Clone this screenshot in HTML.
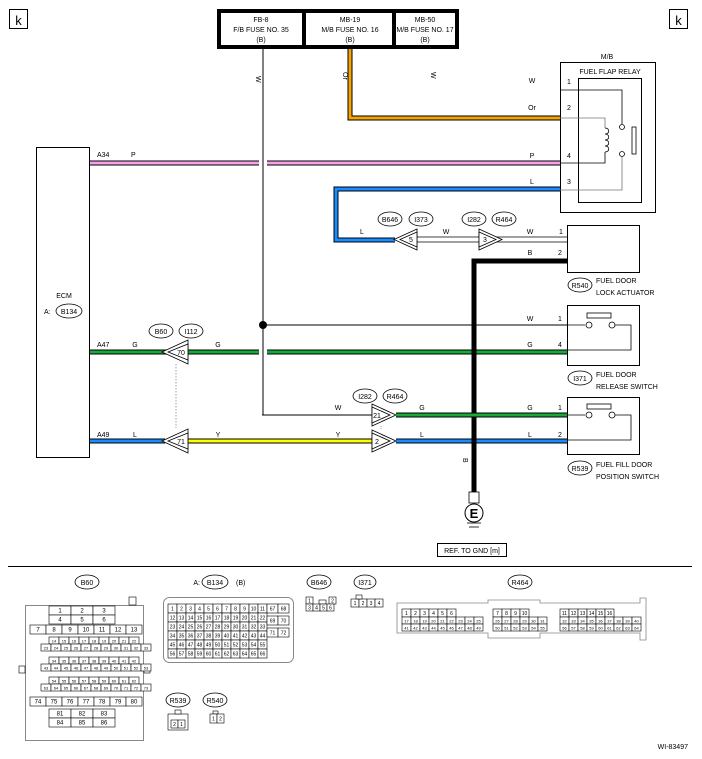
<!DOCTYPE html>
<html><head><meta charset="utf-8"><style>
html,body{margin:0;padding:0;background:#fff;}
svg{display:block;font-family:"Liberation Sans",sans-serif;}
text{font-size:7px;fill:#000;}
</style></head><body>
<svg id="s" width="702" height="759" viewBox="0 0 702 759" xmlns="http://www.w3.org/2000/svg">
<rect x="0" y="0" width="702" height="759" fill="#fff"/>
<rect x="9.5" y="9.5" width="18" height="19" fill="none" stroke="#000"/>
<text x="18.5" y="25" text-anchor="middle" style="font-size:13px">k</text>
<rect x="669.5" y="9.5" width="18" height="19" fill="none" stroke="#000"/>
<text x="678.5" y="25" text-anchor="middle" style="font-size:13px">k</text>
<rect x="219" y="11" width="238" height="36" fill="#fff" stroke="#000" stroke-width="4"/>
<line x1="304" y1="11" x2="304" y2="47" stroke="#000" stroke-width="4"/>
<line x1="394" y1="11" x2="394" y2="47" stroke="#000" stroke-width="4"/>
<text x="261" y="22" text-anchor="middle">FB-8</text><text x="261" y="32" text-anchor="middle">F/B FUSE NO. 35</text><text x="261" y="42" text-anchor="middle">(B)</text>
<text x="350" y="22" text-anchor="middle">MB-19</text><text x="350" y="32" text-anchor="middle">M/B FUSE NO. 16</text><text x="350" y="42" text-anchor="middle">(B)</text>
<text x="425" y="22" text-anchor="middle">MB-50</text><text x="425" y="32" text-anchor="middle">M/B FUSE NO. 17</text><text x="425" y="42" text-anchor="middle">(B)</text>
<text transform="translate(256,76) rotate(90)">W</text>
<text transform="translate(343,72) rotate(90)">Or</text>
<text transform="translate(431,72) rotate(90)">W</text>
<line x1="263" y1="49" x2="263" y2="415" stroke="#000" stroke-width="1"/>
<polyline points="350,49 350,118 560,118" fill="none" stroke="#000" stroke-width="5"/>
<polyline points="350,49 350,118 560,118" fill="none" stroke="#f7a500" stroke-width="3"/>
<!-- M/B relay -->
<text x="607" y="59" text-anchor="middle">M/B</text>
<rect x="560.5" y="62.5" width="95" height="150" fill="none" stroke="#000"/>
<text x="610" y="74" text-anchor="middle">FUEL FLAP RELAY</text>
<rect x="578.5" y="78.5" width="63" height="124" fill="none" stroke="#000"/>
<text x="532" y="83" text-anchor="middle">W</text><text x="567" y="84">1</text>
<text x="532" y="110" text-anchor="middle">Or</text><text x="567" y="110">2</text>
<text x="532" y="158" text-anchor="middle">P</text><text x="567" y="158">4</text>
<text x="532" y="184" text-anchor="middle">L</text><text x="567" y="184">3</text>
<polyline points="560,90 622,90 622,124" fill="none" stroke="#000" stroke-width="0.8"/>
<polyline points="560,118 605,118 605,128" fill="none" stroke="#777" stroke-width="0.8"/>
<path d="M605,128 c5,0 5,6 0,6 c5,0 5,6 0,6 c5,0 5,6 0,6 c5,0 5,6 0,6" fill="none" stroke="#000" stroke-width="0.8"/>
<polyline points="605,152 605,163 560,163" fill="none" stroke="#000" stroke-width="0.8"/>
<circle cx="622" cy="127" r="2.5" fill="#fff" stroke="#000" stroke-width="0.8"/>
<circle cx="622" cy="154" r="2.5" fill="#fff" stroke="#000" stroke-width="0.8"/>
<rect x="632" y="127" width="4" height="27" fill="#fff" stroke="#000" stroke-width="0.8"/>
<polyline points="622,157 622,190 560,190" fill="none" stroke="#777" stroke-width="0.8"/>
<!-- ECM -->
<rect x="36.5" y="147.5" width="53" height="310" fill="#fff" stroke="#000"/>
<text x="64" y="298" text-anchor="middle">ECM</text>
<text x="44" y="314">A:</text>
<ellipse cx="69" cy="311" rx="13" ry="7" fill="none" stroke="#000" stroke-width="0.8"/><text x="69" y="314" text-anchor="middle">B134</text>
<text x="97" y="157">A34</text><text x="131" y="157">P</text>
<line x1="90" y1="163" x2="259" y2="163" stroke="#000" stroke-width="5"/>
<line x1="90" y1="163" x2="259" y2="163" stroke="#f9a0e8" stroke-width="3"/>
<line x1="267" y1="163" x2="560" y2="163" stroke="#000" stroke-width="5"/>
<line x1="267" y1="163" x2="560" y2="163" stroke="#f9a0e8" stroke-width="3"/>
<polyline points="560,189 336,189 336,240 395,240" fill="none" stroke="#000" stroke-width="5"/>
<polyline points="560,189 336,189 336,240 395,240" fill="none" stroke="#1a8cff" stroke-width="3"/>
<text x="362" y="234" text-anchor="middle">L</text>
<text x="446" y="234" text-anchor="middle">W</text>
<text x="530" y="234" text-anchor="middle">W</text><text x="559" y="234">1</text>
<text x="530" y="255" text-anchor="middle">B</text><text x="558" y="255">2</text>
<line x1="410" y1="237" x2="570" y2="237" stroke="#000" stroke-width="0.8"/>
<line x1="410" y1="242" x2="570" y2="242" stroke="#000" stroke-width="0.8"/>
<polygon points="394,239.5 417,229 417,250" fill="#fff" stroke="#000" stroke-width="0.8"/>
<polygon points="400,239.5 417,232 417,247" fill="#fff" stroke="#000" stroke-width="0.8"/>
<text x="411" y="242" text-anchor="middle">5</text>
<polygon points="502,239.5 479,229 479,250" fill="#fff" stroke="#000" stroke-width="0.8"/>
<polygon points="496,239.5 479,232 479,247" fill="#fff" stroke="#000" stroke-width="0.8"/>
<text x="485" y="242" text-anchor="middle">3</text>
<ellipse cx="390" cy="219" rx="12" ry="7" fill="none" stroke="#000" stroke-width="0.8"/><text x="390" y="222" text-anchor="middle">B646</text>
<ellipse cx="421" cy="219" rx="12" ry="7" fill="none" stroke="#000" stroke-width="0.8"/><text x="421" y="222" text-anchor="middle">I373</text>
<ellipse cx="474" cy="219" rx="12" ry="7" fill="none" stroke="#000" stroke-width="0.8"/><text x="474" y="222" text-anchor="middle">I282</text>
<ellipse cx="504" cy="219" rx="12" ry="7" fill="none" stroke="#000" stroke-width="0.8"/><text x="504" y="222" text-anchor="middle">R464</text>
<rect x="567.5" y="225.5" width="72" height="47" fill="#fff" stroke="#000"/>
<ellipse cx="580" cy="285" rx="12" ry="7" fill="none" stroke="#000" stroke-width="0.8"/><text x="580" y="288" text-anchor="middle">R540</text>
<text x="596" y="283">FUEL DOOR</text><text x="596" y="295">LOCK ACTUATOR</text>
<polyline points="567,261 474,261 474,492" fill="none" stroke="#000" stroke-width="5"/>
<text transform="translate(463,458) rotate(90)">B</text>
<rect x="469" y="492" width="10" height="11" fill="#fff" stroke="#000" stroke-width="0.8"/>
<circle cx="474" cy="513" r="9" fill="#fff" stroke="#000"/>
<text x="474" y="518" text-anchor="middle" style="font-size:13px;font-weight:bold">E</text>
<line x1="467" y1="523" x2="481" y2="523" stroke="#000" stroke-width="0.8"/>
<line x1="469" y1="527" x2="479" y2="527" stroke="#000" stroke-width="0.8"/>
<rect x="437.5" y="543.5" width="69" height="13" fill="#fff" stroke="#000"/>
<text x="472" y="553" text-anchor="middle">REF. TO GND  [m]</text>
<circle cx="263" cy="325" r="4" fill="#000"/>
<line x1="263" y1="325" x2="567" y2="325" stroke="#000" stroke-width="0.9"/>
<text x="530" y="321" text-anchor="middle">W</text><text x="558" y="321">1</text>
<text x="97" y="347">A47</text><text x="135" y="347" text-anchor="middle">G</text><text x="218" y="347" text-anchor="middle">G</text>
<text x="530" y="347" text-anchor="middle">G</text><text x="558" y="347">4</text>
<line x1="90" y1="352" x2="259" y2="352" stroke="#000" stroke-width="5"/>
<line x1="90" y1="352" x2="259" y2="352" stroke="#19a83a" stroke-width="3"/>
<line x1="267" y1="352" x2="567" y2="352" stroke="#000" stroke-width="5"/>
<line x1="267" y1="352" x2="567" y2="352" stroke="#19a83a" stroke-width="3"/>
<line x1="474" y1="348" x2="474" y2="356" stroke="#000" stroke-width="5"/>
<polygon points="162,352 188,340 188,364" fill="#fff" stroke="#000" stroke-width="0.8"/>
<polygon points="168,352 188,344 188,360" fill="#fff" stroke="#000" stroke-width="0.8"/>
<text x="181" y="355" text-anchor="middle">70</text>
<ellipse cx="161" cy="331" rx="12" ry="7" fill="none" stroke="#000" stroke-width="0.8"/><text x="161" y="334" text-anchor="middle">B60</text>
<ellipse cx="191" cy="331" rx="12" ry="7" fill="none" stroke="#000" stroke-width="0.8"/><text x="191" y="334" text-anchor="middle">I112</text>
<line x1="176" y1="364" x2="176" y2="428" stroke="#888" stroke-width="0.8" stroke-dasharray="1.5,1.5"/>
<rect x="567.5" y="305.5" width="72" height="60" fill="#fff" stroke="#000"/>
<rect x="587" y="313" width="24" height="5" fill="#fff" stroke="#000" stroke-width="0.8"/>
<line x1="567" y1="325" x2="585" y2="325" stroke="#000" stroke-width="0.8"/>
<circle cx="589" cy="325" r="3" fill="#fff" stroke="#000" stroke-width="0.8"/>
<circle cx="612" cy="325" r="3" fill="#fff" stroke="#000" stroke-width="0.8"/>
<polyline points="615,325 631,325 631,350 567,350" fill="none" stroke="#000" stroke-width="0.8"/>
<ellipse cx="580" cy="378" rx="12" ry="7" fill="none" stroke="#000" stroke-width="0.8"/><text x="580" y="381" text-anchor="middle">I371</text>
<text x="596" y="377">FUEL DOOR</text><text x="596" y="389">RELEASE SWITCH</text>
<line x1="262" y1="415" x2="372" y2="415" stroke="#000" stroke-width="0.9"/>
<text x="338" y="410" text-anchor="middle">W</text>
<polygon points="396,415 372,404 372,426" fill="#fff" stroke="#000" stroke-width="0.8"/>
<polygon points="390,415 372,407 372,423" fill="#fff" stroke="#000" stroke-width="0.8"/>
<text x="377" y="418" text-anchor="middle">21</text>
<line x1="396" y1="415" x2="567" y2="415" stroke="#000" stroke-width="5"/>
<line x1="396" y1="415" x2="567" y2="415" stroke="#19a83a" stroke-width="3"/>
<text x="422" y="410" text-anchor="middle">G</text>
<text x="530" y="410" text-anchor="middle">G</text><text x="558" y="410">1</text>
<ellipse cx="365" cy="396" rx="12" ry="7" fill="none" stroke="#000" stroke-width="0.8"/><text x="365" y="399" text-anchor="middle">I282</text>
<ellipse cx="395" cy="396" rx="12" ry="7" fill="none" stroke="#000" stroke-width="0.8"/><text x="395" y="399" text-anchor="middle">R464</text>
<line x1="381" y1="426" x2="381" y2="429" stroke="#888" stroke-width="0.8" stroke-dasharray="1,1"/>
<text x="97" y="437">A49</text><text x="135" y="437" text-anchor="middle">L</text><text x="218" y="437" text-anchor="middle">Y</text>
<text x="338" y="437" text-anchor="middle">Y</text><text x="422" y="437" text-anchor="middle">L</text>
<text x="530" y="437" text-anchor="middle">L</text><text x="558" y="437">2</text>
<line x1="90" y1="441" x2="165" y2="441" stroke="#000" stroke-width="5"/>
<line x1="90" y1="441" x2="165" y2="441" stroke="#1a8cff" stroke-width="3"/>
<line x1="188" y1="441" x2="372" y2="441" stroke="#000" stroke-width="5"/>
<line x1="188" y1="441" x2="372" y2="441" stroke="#ffff00" stroke-width="3"/>
<line x1="396" y1="441" x2="567" y2="441" stroke="#000" stroke-width="5"/>
<line x1="396" y1="441" x2="567" y2="441" stroke="#1a8cff" stroke-width="3"/>
<line x1="474" y1="437" x2="474" y2="445" stroke="#000" stroke-width="5"/>
<polygon points="162,441 188,429 188,453" fill="#fff" stroke="#000" stroke-width="0.8"/>
<polygon points="168,441 188,433 188,449" fill="#fff" stroke="#000" stroke-width="0.8"/>
<text x="181" y="444" text-anchor="middle">71</text>
<polygon points="396,441 372,430 372,452" fill="#fff" stroke="#000" stroke-width="0.8"/>
<polygon points="390,441 372,433 372,449" fill="#fff" stroke="#000" stroke-width="0.8"/>
<text x="377" y="444" text-anchor="middle">2</text>
<rect x="567.5" y="397.5" width="72" height="57" fill="#fff" stroke="#000"/>
<rect x="587" y="404" width="24" height="5" fill="#fff" stroke="#000" stroke-width="0.8"/>
<line x1="567" y1="415" x2="585" y2="415" stroke="#000" stroke-width="0.8"/>
<circle cx="589" cy="415" r="3" fill="#fff" stroke="#000" stroke-width="0.8"/>
<circle cx="612" cy="415" r="3" fill="#fff" stroke="#000" stroke-width="0.8"/>
<polyline points="615,415 631,415 631,440 567,440" fill="none" stroke="#000" stroke-width="0.8"/>
<ellipse cx="580" cy="468" rx="12" ry="7" fill="none" stroke="#000" stroke-width="0.8"/><text x="580" y="471" text-anchor="middle">R539</text>
<text x="596" y="467">FUEL FILL DOOR</text><text x="596" y="479">POSITION SWITCH</text>
<line x1="8" y1="566.5" x2="692" y2="566.5" stroke="#000"/>
<ellipse cx="87" cy="582" rx="12" ry="7" fill="none" stroke="#000" stroke-width="0.8"/><text x="87" y="585" text-anchor="middle">B60</text>
<text x="200" y="585" text-anchor="end">A:</text>
<ellipse cx="215" cy="582" rx="13" ry="7" fill="none" stroke="#000" stroke-width="0.8"/><text x="215" y="585" text-anchor="middle">B134</text>
<text x="236" y="585">(B)</text>
<ellipse cx="319" cy="582" rx="12" ry="7" fill="none" stroke="#000" stroke-width="0.8"/><text x="319" y="585" text-anchor="middle">B646</text>
<ellipse cx="365" cy="582" rx="11" ry="7" fill="none" stroke="#000" stroke-width="0.8"/><text x="365" y="585" text-anchor="middle">I371</text>
<ellipse cx="520" cy="582" rx="12" ry="7" fill="none" stroke="#000" stroke-width="0.8"/><text x="520" y="585" text-anchor="middle">R464</text>
<ellipse cx="178" cy="700" rx="12" ry="7" fill="none" stroke="#000" stroke-width="0.8"/><text x="178" y="703" text-anchor="middle">R539</text>
<ellipse cx="215" cy="700" rx="12" ry="7" fill="none" stroke="#000" stroke-width="0.8"/><text x="215" y="703" text-anchor="middle">R540</text>
<text x="688" y="749" text-anchor="end">WI-83497</text>
<rect x="25.5" y="605.5" width="118" height="135" fill="#fff" stroke="#888"/>
<rect x="129" y="597" width="7" height="8" fill="#fff" stroke="#000" stroke-width="0.6"/>
<rect x="19" y="666" width="6" height="7" fill="#fff" stroke="#000" stroke-width="0.6"/>
<rect x="144" y="666" width="6" height="7" fill="#fff" stroke="#000" stroke-width="0.6"/>
<rect x="163.5" y="597.5" width="130" height="65" rx="6" fill="#fff" stroke="#888"/>
<path d="M397,603 H488 V600 H540 V603 H640 V598 H646 V640 H640 V633 H540 V638 H488 V633 H397 Z" fill="#fff" stroke="#888" stroke-width="0.8"/>
<g id="grids" fill="#fff" stroke="#000" stroke-width="0.6"></g>
</svg>
<script>
var g=document.getElementById('grids'),NS='http://www.w3.org/2000/svg';
function cell(x,y,w,h,t,fs){var r=document.createElementNS(NS,'rect');r.setAttribute('x',x);r.setAttribute('y',y);r.setAttribute('width',w);r.setAttribute('height',h);g.appendChild(r);
 if(t!==undefined){var tx=document.createElementNS(NS,'text');tx.setAttribute('x',x+w/2);tx.setAttribute('y',y+h/2+2);tx.setAttribute('text-anchor','middle');tx.setAttribute('style','font-size:'+(fs||5)+'px;stroke:none');tx.textContent=t;g.appendChild(tx);}}
function row(x,y,w,h,a,b,fs){for(var i=a;i<=b;i++)cell(x+(i-a)*w,y,w,h,i,fs);}
row(49,606,22,9,1,3,6);row(49,615,22,9,4,6,6);
row(30,625,16,9,7,13,6);
row(49,637,10,7,14,22,4);row(41,644,10,7,23,33,4);
row(49,657,10,7,34,42,4);row(41,664,10,7,43,53,4);
row(49,677,10,7,54,62,4);row(41,684,10,7,63,73,4);
row(30,697,16,9,74,80,6);
row(49,709,22,9,81,83,6);row(49,718,22,9,84,86,6);
row(168,604,9,9,1,11,5);row(168,613,9,9,12,22,5);row(168,622,9,9,23,33,5);
row(168,631,9,9,34,44,5);row(168,640,9,9,45,55,5);row(168,649,9,9,56,66,5);
row(267,604,11,9,67,68,5);row(267,616,11,9,69,70,5);row(267,628,11,9,71,72,5);
cell(306,597,7,7,1);cell(329,597,7,7,2);cell(319,600,7,4);
row(306,604,7,7,3,6,5);
row(351,599,8,8,1,4,5);cell(356,595,6,4);
row(402,609,9,8,1,6,5);row(402,617,9,7,17,25,4);row(402,624,9,7,41,49,4);
row(493,609,9,8,7,10,5);row(493,617,9,7,26,31,4);row(493,624,9,7,50,55,4);
row(560,609,9,8,11,16,5);row(560,617,9,7,32,40,4);row(560,624,9,7,56,64,4);
cell(168,714,20,16);cell(175,710,6,4);cell(171,720,7,8,2);cell(178,720,7,8,1);
cell(213,711,5,3);cell(210,714,7,9,1);cell(217,714,7,9,2);
</script>
</body></html>
